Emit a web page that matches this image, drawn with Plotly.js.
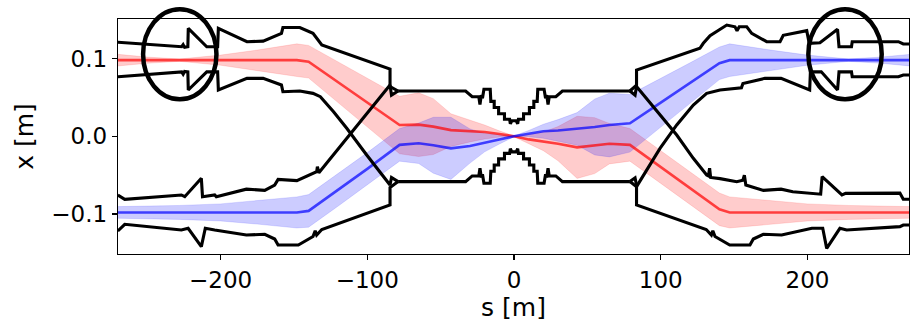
<!DOCTYPE html>
<html>
<head>
<meta charset="utf-8">
<script src="https://cdn.plot.ly/plotly-3.0.1.min.js"></script>
<style>html,body{margin:0;padding:0;background:#fff;}#chart{width:910px;height:326px;}</style>
</head>
<body>
<div id="chart"></div>
<script>
// ---- beam centroid orbits and envelope half-widths (m) ----
const s = [-270, -250, -228, -200, -175, -148, -140, -120, -100, -78, -65, -55, -43, -30, -20, -10, 0, 10, 20, 30, 43, 55, 65, 79, 100, 120, 140, 147, 175, 200, 228, 250, 270];
const redX = [0.098, 0.098, 0.098, 0.098, 0.098, 0.098, 0.096, 0.0697, 0.0434, 0.0145, 0.015, 0.0125, 0.008, 0.0068, 0.0055, 0.003, 0, -0.004, -0.0065, -0.0095, -0.0142, -0.012, -0.0095, -0.011, -0.0396, -0.0668, -0.094, -0.098, -0.098, -0.098, -0.098, -0.098, -0.098];
const redSig = [0.0075, 0.004, 0.0015, 0.0065, 0.013, 0.021, 0.021, 0.026, 0.031, 0.037, 0.041, 0.036, 0.021, 0.014, 0.009, 0.004, 0.0005, 0.006, 0.012, 0.022, 0.04, 0.036, 0.026, 0.021, 0.021, 0.021, 0.021, 0.02, 0.015, 0.011, 0.009, 0.008, 0.0075];
const blueX = [-0.098, -0.098, -0.098, -0.098, -0.098, -0.098, -0.096, -0.069, -0.042, -0.011, -0.009, -0.0115, -0.0155, -0.0125, -0.008, -0.004, 0, 0.0035, 0.0065, 0.0075, 0.0095, 0.012, 0.0145, 0.0167, 0.0433, 0.0686, 0.094, 0.098, 0.098, 0.098, 0.098, 0.098, 0.098];
const blueSig = [0.0075, 0.008, 0.009, 0.011, 0.015, 0.02, 0.021, 0.021, 0.021, 0.021, 0.026, 0.036, 0.04, 0.022, 0.012, 0.006, 0.0005, 0.004, 0.009, 0.014, 0.021, 0.036, 0.041, 0.037, 0.031, 0.026, 0.021, 0.021, 0.013, 0.0065, 0.0015, 0.004, 0.0075];

// ---- aperture outlines (m); null splits left and right arms ----
const redUpS = [-270, -226.5, -225.5, -224.5, -222.3, -222, -209.4, -202, -201.5, -182, -171, -158.5, -157.5, -146, -137, -131, -84.5, -84.5, -79, null,
  79, 82.5, 83.5, 99.5, 110.9, 122.2, 131.3, 132.5, 133.3, 134, 140.4, 151.8, 156, 157, 158, 170, 182, 190, 209, 210, 223.5, 226, 263, 265.3, 270];
const redUpX = [0.121, 0.1153, 0.118, 0.1145, 0.1153, 0.139, 0.1153, 0.1153, 0.139, 0.1218, 0.1225, 0.1325, 0.140, 0.140, 0.1325, 0.1175, 0.0866, 0.064, 0.0583, null,
  0.0583, 0.053, 0.064, 0.0274, 0.0017, -0.0283, -0.0498, -0.051, -0.041, -0.053, -0.0545, -0.0584, -0.0565, -0.050, -0.0627, -0.0696, -0.068, -0.0713, -0.0745, -0.052, -0.0755, -0.0735, -0.0731, -0.0811, -0.0811];
const redLoS = [-270, -226.5, -225.5, -224.5, -222.3, -222, -209.4, -202, -201.5, -182, -171, -158.5, -157.5, -146, -137, -132, -123, -114, -100.4, -84.5, -83.5, -79, null,
  79, 82.5, 83.5, 83.5, 131, 134.5, 135.5, 137, 147, 160.8, 163.1, 169.9, 182.4, 203, 210.4, 213.1, 222.1, 226.7, 263, 265.3, 270];
const redLoX = [0.0767, 0.083, 0.080, 0.0835, 0.083, 0.0596, 0.083, 0.083, 0.0596, 0.0746, 0.0746, 0.066, 0.0574, 0.0583, 0.0553, 0.051, 0.0317, 0.0103, -0.024, -0.0627, -0.053, -0.0583, null,
  -0.0583, -0.0535, -0.063, -0.0884, -0.12, -0.127, -0.1215, -0.129, -0.14, -0.14, -0.1322, -0.1261, -0.127, -0.1184, -0.1184, -0.1442, -0.1184, -0.1206, -0.1163, -0.1142, -0.1142];
const blueUpS = [-270, -265.3, -226.7, -224.4, -213.1, -212.3, -204, -202.9, -182.4, -169.9, -163.1, -160.8, -148, -139, -134.5, -134, -133, -84.5, -83.5, -79, null,
  79, 83.5, 83.5, 126.7, 129, 133.6, 145, 150.6, 152, 153.5, 158.6, 162, 172.2, 181.3, 183.5, 199.5, 201.2, 208.5, 220.5, 221.5, 230, 230.5, 262, 265.3, 270];
const blueUpX = [-0.0755, -0.0811, -0.0755, -0.0777, -0.054, -0.0777, -0.0755, -0.0777, -0.068, -0.0696, -0.0627, -0.0554, -0.057, -0.0498, -0.0455, -0.039, -0.047, 0.066, 0.053, 0.0583, null,
  0.0583, 0.066, 0.0853, 0.1133, 0.1197, 0.1295, 0.1432, 0.141, 0.136, 0.141, 0.141, 0.1325, 0.1218, 0.1218, 0.130, 0.136, 0.1197, 0.1205, 0.1377, 0.1153, 0.1153, 0.1218, 0.1218, 0.1188, 0.1188];
const blueLoS = [-270, -265.3, -226.7, -222.1, -213.1, -210.4, -204, -182.4, -169.9, -163.1, -160.8, -147, -137, -135.5, -134.5, -131, -84.5, -84.5, -79, null,
  79, 83.5, 99.5, 110.9, 122.2, 131.3, 140.4, 155, 156, 171, 182, 201.5, 202, 209.4, 220.5, 221.5, 230, 230.5, 262, 265.3, 270];
const blueLoX = [-0.1219, -0.1133, -0.1206, -0.1184, -0.142, -0.1184, -0.1206, -0.127, -0.1261, -0.1322, -0.14, -0.14, -0.129, -0.1215, -0.127, -0.12, -0.0884, -0.066, -0.0583, null,
  -0.0583, -0.0648, -0.0155, 0.0146, 0.0403, 0.0553, 0.0596, 0.0625, 0.068, 0.0746, 0.0746, 0.0596, 0.083, 0.083, 0.0596, 0.083, 0.083, 0.0767, 0.0767, 0.0789, 0.0789];
// common chamber around the interaction point
const irS = [-79, -33, -28.5, -24, -23.2, -22.3, -21.5, -20.5, -16.2, -15.8, -13.5, -13.5, -10.5, -10.5, -6.5, -6.5, -3, -2.5, -1.5, 1.5, 2.5, 3, 6.5, 6.5, 10.5, 10.5, 13.5, 13.5, 15.8, 16.2, 20.5, 21.5, 22.3, 23.2, 24, 28.5, 33, 79];
const irTopX = [0.0583, 0.0583, 0.051, 0.051, 0.041, 0.053, 0.049, 0.0605, 0.0605, 0.045, 0.045, 0.037, 0.037, 0.029, 0.029, 0.022, 0.022, 0.016, 0.020, 0.020, 0.016, 0.022, 0.022, 0.029, 0.029, 0.037, 0.037, 0.045, 0.045, 0.0605, 0.0605, 0.049, 0.053, 0.041, 0.051, 0.051, 0.0583, 0.0583];
const irBotX = [-0.0583, -0.0583, -0.051, -0.051, -0.041, -0.053, -0.049, -0.0605, -0.0605, -0.045, -0.045, -0.037, -0.037, -0.029, -0.029, -0.022, -0.022, -0.016, -0.020, -0.020, -0.016, -0.022, -0.022, -0.029, -0.029, -0.037, -0.037, -0.045, -0.045, -0.0605, -0.0605, -0.049, -0.053, -0.041, -0.051, -0.051, -0.0583, -0.0583];

// highlighted regions (ellipse centre s, centre x, half-axes)
const markS = [-227.8, 225.6];
const markX = [0.1057, 0.1057];
const markRs = [25, 25];
const markRx = [0.058, 0.058];

const xTicks = [-200, -100, 0, 100, 200];
const xTickText = ['\u2212200', '\u2212100', '0', '100', '200'];
const yTicks = [-0.1, 0.0, 0.1];
const yTickText = ['\u22120.1', '0.0', '0.1'];

const xRange = [-269.9, 269.2];
const yRange = [-0.1515, 0.151];

function band(sv, c, sig, color) {
  const up = c.map((v, i) => v + sig[i]);
  const lo = c.map((v, i) => v - sig[i]);
  return {
    x: sv.concat(sv.slice().reverse()),
    y: up.concat(lo.slice().reverse()),
    type: 'scatter', mode: 'lines', fill: 'toself', fillcolor: color,
    line: {width: 0.6, color: color}, hoverinfo: 'skip', showlegend: false
  };
}
function line(sv, xv, color, w) {
  return {x: sv, y: xv, type: 'scatter', mode: 'lines', connectgaps: false,
    line: {color: color, width: w}, hoverinfo: 'skip', showlegend: false};
}

const traces = [
  band(s, redX, redSig, 'rgba(255,0,0,0.2)'),
  band(s, blueX, blueSig, 'rgba(0,0,255,0.2)'),
  line(s, redX, 'rgba(255,0,0,0.7)', 2.6),
  line(s, blueX, 'rgba(0,0,255,0.7)', 2.6),
  line(redUpS, redUpX, '#000', 3.1),
  line(redLoS, redLoX, '#000', 3.1),
  line(blueUpS, blueUpX, '#000', 3.1),
  line(blueLoS, blueLoX, '#000', 3.1),
  line(irS, irTopX, '#000', 3.1),
  line(irS, irBotX, '#000', 3.1)
];

function px(v) { return (v - xRange[0]) / (xRange[1] - xRange[0]); }
function py(v) { return (v - yRange[0]) / (yRange[1] - yRange[0]); }
const shapes = markS.map((c, i) => ({
  type: 'circle', xref: 'paper', yref: 'paper',
  x0: px(c - markRs[i]), x1: px(c + markRs[i]),
  y0: py(markX[i] - markRx[i]), y1: py(markX[i] + markRx[i]),
  line: {color: '#000', width: 4.5}, layer: 'above'
}));

const axisFont = {family: 'DejaVu Sans, sans-serif', size: 23, color: '#000'};
const layout = {
  width: 910, height: 326,
  margin: {l: 118, r: 1, t: 19, b: 72, pad: 0},
  paper_bgcolor: '#fff', plot_bgcolor: '#fff',
  showlegend: false,
  xaxis: {
    range: xRange, showgrid: false, zeroline: false,
    showline: true, mirror: true, linecolor: '#000', linewidth: 1.2,
    ticks: 'outside', ticklen: 5, tickwidth: 1.2, tickcolor: '#000',
    tickvals: xTicks, ticktext: xTickText, tickfont: axisFont,
    title: {text: 's [m]', font: {family: 'DejaVu Sans, sans-serif', size: 25, color: '#000'}, standoff: 6}
  },
  yaxis: {
    range: yRange, showgrid: false, zeroline: false,
    showline: true, mirror: true, linecolor: '#000', linewidth: 1.2,
    ticks: 'outside', ticklen: 5, tickwidth: 1.2, tickcolor: '#000',
    tickvals: yTicks, ticktext: yTickText, tickfont: axisFont,
    title: {text: 'x [m]', font: {family: 'DejaVu Sans, sans-serif', size: 25, color: '#000'}, standoff: 10}
  },
  shapes: shapes
};

Plotly.newPlot('chart', traces, layout, {displayModeBar: false, staticPlot: true});
</script>
</body>
</html>
